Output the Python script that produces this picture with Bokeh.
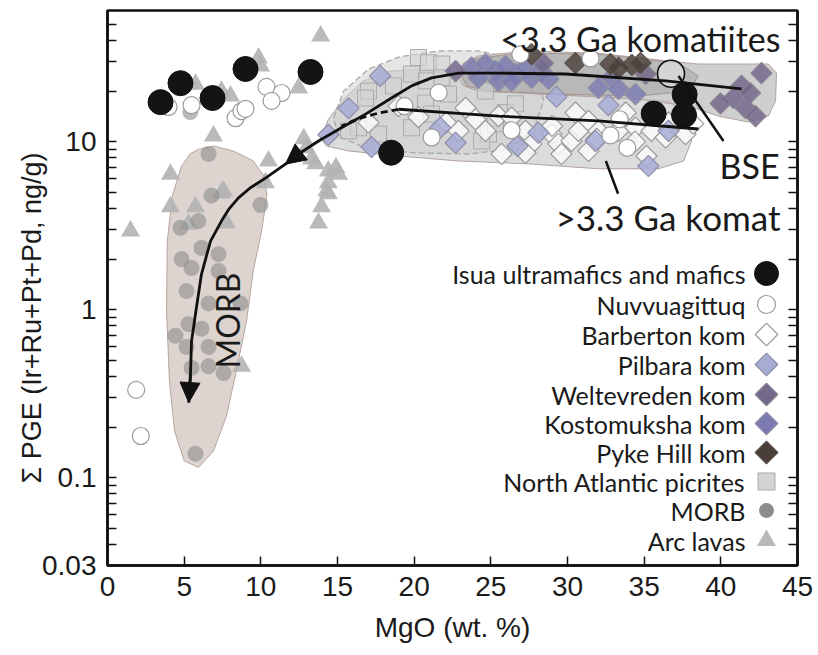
import math
from bokeh.plotting import figure
from bokeh.models import (FixedTicker, LogAxis, Label, Arrow, NormalHead, Range1d)
from bokeh.embed import file_html
from bokeh.resources import INLINE

# ---------------- data (MgO wt.%, sum PGE ng/g) ----------------
isua_mgo = [3.46, 4.76, 6.85, 9.0, 13.24, 18.5, 37.64, 35.62, 37.6]
isua_pge = [17.2, 22.3, 18.2, 27.1, 26.0, 8.6, 19.1, 14.7, 14.4]

nuvv_mgo = [3.98, 5.48, 8.35, 8.74, 9.0, 10.37, 11.35, 10.7, 26.92, 21.6, 19.37, 21.14,
            26.35, 31.5, 33.4, 32.8, 33.9, 1.87, 2.17]
nuvv_pge = [16.1, 16.5, 13.8, 15.2, 15.7, 21.2, 19.5, 17.5, 33.1, 19.6, 16.3, 10.6,
            11.7, 31.3, 13.6, 10.9, 9.2, 0.333, 0.177]

barb_mgo = [17.02, 18.98, 20.28, 22.1, 22.89, 23.35, 24.0, 24.65, 25.5, 26.35, 27.26, 27.65,
            25.7, 27.26, 28.96, 29.4, 29.6, 30.26, 30.72, 31.37, 32.02, 33.33, 33.8, 34.43,
            35.48, 36.59, 37.7, 36.4, 35.15, 30.52, 31.37, 29.0, 31.9, 34.4, 38.2]
barb_pge = [13.0, 16.3, 14.0, 13.0, 11.6, 15.9, 13.6, 11.6, 14.2, 13.9, 11.6, 9.7,
            8.45, 8.6, 11.1, 9.7, 8.45, 10.1, 11.6, 13.3, 11.6, 11.6, 14.9, 12.1,
            11.6, 13.0, 11.1, 10.6, 8.22, 14.9, 8.81, 12.4, 10.4, 10.0, 12.8]

pilb_mgo = [17.78, 15.72, 14.41, 17.22, 21.7, 22.7, 26.74, 28.1, 29.28, 32.67, 31.83, 35.28, 36.59]
pilb_pge = [24.6, 15.8, 11.0, 9.3, 12.1, 9.86, 9.43, 11.3, 18.5, 16.5, 10.1, 7.17, 11.6]

welt_mgo = [42.65, 41.35, 40.83, 39.98, 41.6, 42.26, 41.9, 35.1, 22.7, 28.4]
welt_pge = [25.6, 21.5, 18.2, 16.9, 15.9, 14.2, 19.5, 25.3, 26.3, 29.3]

kost_mgo = [23.74, 24.65, 25.3, 25.96, 26.6, 27.26, 27.65, 28.3, 28.76, 24.2, 25.5, 26.35,
            32.02, 32.87, 33.33, 34.43]
kost_pge = [27.6, 29.0, 26.3, 28.2, 25.3, 27.6, 24.0, 26.3, 23.6, 24.0, 23.0, 23.0,
            20.9, 24.0, 20.6, 19.2]

pyke_mgo = [27.65, 30.52, 32.8, 34.2, 34.76, 33.33]
pyke_pge = [33.2, 29.4, 29.0, 28.6, 29.4, 27.5]

nap_mgo = [20.28, 20.93, 21.8, 19.83, 20.8, 21.8, 17.02, 16.83, 16.37, 15.72, 17.67, 19.83,
           20.74, 22.24, 24.65, 24.85, 24.4, 25.96, 26.6, 25.3, 21.13, 18.65]
nap_pge = [31.7, 29.5, 29.0, 25.3, 23.0, 24.0, 20.0, 18.2, 12.1, 11.6, 11.1, 12.1,
           17.0, 19.2, 20.0, 11.1, 10.1, 14.9, 16.8, 12.8, 14.6, 21.5]

morb_mgo = [6.59, 6.78, 4.76, 5.93, 6.13, 7.24, 4.83, 5.48, 7.24, 5.15, 6.59, 8.67, 5.28,
            6.13, 4.43, 5.15, 6.59, 5.48, 6.59, 7.57, 5.74, 9.98, 5.4]
morb_pge = [8.45, 4.77, 3.07, 3.37, 2.33, 2.14, 2.0, 1.77, 1.70, 1.29, 1.09, 1.09, 0.82,
            0.77, 0.70, 0.60, 0.60, 0.45, 0.46, 0.42, 0.139, 4.2, 15.0]

arc_mgo = [13.9, 9.85, 9.98, 12.46, 5.74, 7.43, 8.02, 6.91, 4.11, 10.5, 12.8, 12.98, 13.3,
           13.57, 14.4, 14.9, 15.07, 14.4, 14.3, 7.43, 10.3, 1.5, 4.11, 5.74, 7.57, 7.76,
           5.28, 14.4, 13.96, 13.76, 8.74]
arc_pge = [42.6, 31.5, 28.2, 20.9, 22.0, 20.0, 18.7, 10.8, 6.4, 7.68, 10.4, 9.2, 7.9,
           7.4, 6.69, 7.0, 6.4, 5.7, 5.09, 4.95, 5.7, 2.94, 4.1, 4.1, 5.09, 3.28,
           3.23, 4.9, 4.1, 3.28, 0.46]

bse_mgo = [36.75]
bse_pge = [25.4]

# fields (outlines, MgO / PGE)
morb_field_mgo = [5.93, 6.91, 8.2, 9.5, 10.2, 10.4, 10.05, 9.5, 9.07, 8.4, 7.76, 6.91, 5.93,
                  5.0, 4.37, 4.04, 3.85, 3.9, 4.24, 4.83, 5.41]
morb_field_pge = [9.0, 9.43, 8.8, 7.7, 6.25, 4.8, 2.94, 1.70, 0.857, 0.432, 0.233, 0.144, 0.115,
                  0.126, 0.19, 0.376, 0.98, 2.56, 4.8, 7.17, 8.5]

old_field_mgo = [13.89, 14.41, 15.39, 16.7, 18.33, 20.93, 23.54, 26.8, 32.02, 36.59, 37.9, 38.09,
                 37.57, 35.93, 32.02, 27.46, 22.89, 18.98, 15.72, 14.28]
old_field_pge = [10.5, 13.6, 17.9, 23.0, 26.3, 27.0, 23.0, 20.0, 18.7, 17.5, 14.2, 10.1,
                 7.68, 6.9, 6.9, 7.38, 7.68, 8.22, 8.81, 9.43]

nap_field_mgo = [14.74, 15.39, 17.02, 18.98, 21.59, 24.2, 26.8, 28.1, 28.44, 27.78, 26.15,
                 23.54, 20.28, 17.02, 15.07]
nap_field_pge = [13.8, 20.0, 27.0, 31.9, 34.7, 34.7, 31.0, 24.6, 17.5, 11.6, 9.0,
                 8.45, 8.57, 9.0, 10.8]

young_field_mgo = [22.89, 23.22, 24.2, 27.46, 32.02, 36.59, 38.54, 43.1, 43.63, 43.57, 43.1,
                   41.8, 39.85, 37.9, 34.63, 30.72, 26.8, 24.2, 23.22]
young_field_pge = [24.6, 29.4, 32.4, 34.7, 33.6, 30.2, 29.0, 29.0, 25.6, 17.5, 14.2,
                   13.1, 14.2, 16.3, 17.9, 18.7, 19.5, 20.0, 21.5]

young_core_mgo = [23.02, 23.87, 26.8, 32.02, 37.24, 38.54, 37.9, 34.63, 29.4, 24.85, 23.41]
young_core_pge = [25.6, 31.0, 33.7, 33.2, 29.4, 24.6, 20.0, 18.7, 19.2, 20.0, 21.5]

# trends
trend_mgo = [41.35, 36.4, 29.87, 25.5, 22.9, 21.13, 19.83, 18.52, 16.83, 15.26, 13.76, 12.46,
             11.6, 10.3, 9.3, 8.54, 7.9, 7.43, 6.72, 6.13, 5.8, 5.48, 5.41, 5.3]
trend_pge = [20.6, 23.0, 25.3, 25.6, 25.6, 24.0, 21.5, 18.2, 14.6, 12.1, 10.1, 8.45,
             7.35, 6.07, 5.3, 4.63, 3.95, 3.37, 2.56, 1.63, 1.03, 0.65, 0.41, 0.28]
old_trend_mgo = [18.98, 25.5, 32.0, 38.54]
old_trend_pge = [15.6, 14.2, 13.3, 11.9]
old_dash_mgo = [18.98, 17.67, 16.37, 15.26]
old_dash_pge = [15.6, 14.8, 13.7, 12.4]
bse_ptr_mgo = [37.24, 40.17]
bse_ptr_pge = [24.6, 10.1]
old_ptr_mgo = [32.5, 33.3]
old_ptr_pge = [7.68, 4.9]

x_ticks = [0, 5, 10, 15, 20, 25, 30, 35, 40, 45]
y_ticks = [0.03, 0.1, 1, 10]
y_tick_labels = ["0.03", "0.1", "1", "10"]
y_minor = [0.04, 0.05, 0.06, 0.07, 0.08, 0.09,
           0.2, 0.3, 0.4, 0.5, 0.6, 0.7, 0.8, 0.9,
           2, 3, 4, 5, 6, 7, 8, 9, 20, 30, 40, 50]

x_title = "MgO (wt. %)"
y_title = "Σ PGE (Ir+Ru+Pt+Pd, ng/g)"

legend_labels = ["Isua ultramafics and mafics", "Nuvvuagittuq", "Barberton kom", "Pilbara kom",
                 "Weltevreden kom", "Kostomuksha kom", "Pyke Hill kom",
                 "North Atlantic picrites", "MORB", "Arc lavas"]

# ---------------- layout ----------------
W, H = 818, 655
LEFT, RIGHT, TOP, BOTTOM = 107, 21, 10, 90
FW, FH = W - LEFT - RIGHT, H - TOP - BOTTOM
X0, X1 = 0, 45
Y0, Y1 = 0.03, 60.4


def sx(px):
    return X0 + (px - LEFT) / FW * (X1 - X0)


def sy(py):
    ly0, ly1 = math.log10(Y0), math.log10(Y1)
    return 10 ** (ly0 + (TOP + FH - py) / FH * (ly1 - ly0))


p = figure(width=W, height=H, x_range=Range1d(X0, X1), y_range=Range1d(Y0, Y1),
           y_axis_type="log", output_backend="svg", toolbar_location=None,
           min_border_left=LEFT, min_border_right=RIGHT, min_border_top=TOP,
           min_border_bottom=BOTTOM)
p.background_fill_color = "white"
p.border_fill_color = "white"
p.outline_line_color = "#111111"
p.outline_line_width = 2.5
p.xgrid.visible = False
p.ygrid.visible = False

TICK_FONT = "Liberation Sans"
xa = p.xaxis[0]
xa.ticker = FixedTicker(ticks=x_ticks)
ya = p.yaxis[0]
ya.ticker = FixedTicker(ticks=y_ticks, minor_ticks=y_minor)
ya.major_label_overrides = {t: s for t, s in zip(y_ticks, y_tick_labels)}
for ax in (xa, ya):
    ax.axis_line_width = 2.5
    ax.axis_line_color = "#111111"
    ax.major_tick_in = 9
    ax.major_tick_out = 0
    ax.minor_tick_in = 9
    ax.minor_tick_out = 0
    ax.major_tick_line_width = 1.5
    ax.minor_tick_line_width = 1.5
    ax.major_tick_line_color = "#111111"
    ax.minor_tick_line_color = "#111111"
    ax.major_label_text_font = TICK_FONT
    ax.major_label_text_font_size = "28px"
    ax.major_label_text_color = "#1a1a1a"
    ax.major_label_standoff = 11
    ax.axis_label_text_font = TICK_FONT
    ax.axis_label_text_font_style = "normal"
    ax.axis_label_text_color = "#1a1a1a"
xa.minor_tick_in = 0
xa.axis_label = x_title
xa.axis_label_text_font_size = "28px"
xa.axis_label_standoff = 13
# trailing no-break spaces move the centred title down, towards the reference position
ya.axis_label = y_title + "\u00a0" * 8
ya.axis_label_text_font_size = "27px"
ya.axis_label_standoff = -8

ra = LogAxis(ticker=FixedTicker(ticks=y_ticks, minor_ticks=y_minor),
             major_label_text_font_size="2px", major_label_text_alpha=0.0,
             major_label_standoff=0,
             axis_line_width=2.5, axis_line_color="#111111",
             major_tick_in=9, major_tick_out=0, minor_tick_in=9, minor_tick_out=0,
             major_tick_line_width=1.5, minor_tick_line_width=1.5,
             major_tick_line_color="#111111", minor_tick_line_color="#111111")
p.add_layout(ra, "right")

# ---------------- fields ----------------
p.patch(morb_field_mgo, morb_field_pge, fill_color="#d9cfcb", fill_alpha=0.9,
        line_color="#b7a49d", line_width=1)
p.patch(old_field_mgo, old_field_pge, fill_color="#d6d6d6", fill_alpha=0.85,
        line_color="#b3a29c", line_width=1)
p.patch(nap_field_mgo, nap_field_pge, fill_color="#cfcfcf", fill_alpha=0.55,
        line_color="#a8a8a8", line_width=1.3, line_dash="6 3")
p.patch(young_field_mgo, young_field_pge, fill_color="#c3c3c3", fill_alpha=0.8,
        line_color="#b3a29c", line_width=1)
p.patch(young_core_mgo, young_core_pge, fill_color="#a6a6a6", fill_alpha=0.55,
        line_color="#a59590", line_width=1)

# ---------------- samples ----------------
p.scatter(arc_mgo, arc_pge, marker="triangle", size=19, fill_color="#b3b3b3",
          fill_alpha=0.9, line_color=None)
p.scatter(morb_mgo, morb_pge, marker="circle", size=16, fill_color="#8c8c8c",
          fill_alpha=0.6, line_color=None)
p.scatter(nap_mgo, nap_pge, marker="square", size=16, fill_color="#d4d4d4",
          fill_alpha=0.6, line_color="#ababab", line_width=1)
DIA = dict(marker="square", angle=math.pi / 4, size=15, line_width=1.2)
p.scatter(barb_mgo, barb_pge, fill_color="white", fill_alpha=0.75, line_color="#9a9a9a", **DIA)
p.scatter(pilb_mgo, pilb_pge, fill_color="#a7acd5", fill_alpha=0.85, line_color="#8e8fa8", **DIA)
p.scatter(kost_mgo, kost_pge, fill_color="#7b7bb2", fill_alpha=0.8, line_color="#8d8da5", **DIA)
p.scatter(welt_mgo, welt_pge, fill_color="#72698b", fill_alpha=0.85, line_color="#8a8494", **DIA)
p.scatter(pyke_mgo, pyke_pge, fill_color="#4a3f38", fill_alpha=0.8, line_color="#5a514b", **DIA)
p.scatter(nuvv_mgo, nuvv_pge, marker="circle", size=17, fill_color="white",
          line_color="#9a9a9a", line_width=1.2)
p.scatter(bse_mgo, bse_pge, marker="circle", size=27, fill_color="#e6e6e6", fill_alpha=0.6,
          line_color="#111111", line_width=1.6)
p.scatter(isua_mgo, isua_pge, marker="circle", size=25, fill_color="#141414",
          line_color="#111111")

# ---------------- trends and pointers ----------------
p.line(trend_mgo, trend_pge, line_color="#111111", line_width=2.8)
p.line(old_trend_mgo, old_trend_pge, line_color="#111111", line_width=2.8)
p.line(old_dash_mgo, old_dash_pge, line_color="#111111", line_width=2.8, line_dash="7 4")
p.line(bse_ptr_mgo, bse_ptr_pge, line_color="#111111", line_width=2.5)
p.line(old_ptr_mgo, old_ptr_pge, line_color="#111111", line_width=2.5)
for i0, i1 in ((11, 12), (22, 23)):
    p.add_layout(Arrow(end=NormalHead(size=20, fill_color="#111111", line_color="#111111"),
                       x_start=trend_mgo[i0], y_start=trend_pge[i0],
                       x_end=trend_mgo[i1], y_end=trend_pge[i1],
                       line_color="#111111", line_width=2.8))

ANN = dict(text_font="Lato", text_font_size="34px", text_color="#1a1a1a")
p.add_layout(Label(x=sx(780), y=sy(38), text="<3.3 Ga komatiites", text_align="right",
                   text_baseline="middle", **ANN))
p.add_layout(Label(x=sx(749), y=sy(165), text="BSE", text_align="center",
                   text_baseline="middle", **ANN))
p.add_layout(Label(x=sx(780), y=sy(216), text=">3.3 Ga komat", text_align="right",
                   text_baseline="middle", text_font="Lato", text_font_size="35px",
                   text_color="#1a1a1a"))
p.add_layout(Label(x=sx(227), y=sy(320), text="MORB", text_align="center",
                   text_baseline="middle", angle=math.pi / 2, text_font="Lato",
                   text_font_size="32px", text_color="#1a1a1a"))

# ---------------- legend (right-aligned text, key on the right) ----------------
leg_rows = [273, 304, 334, 364, 394, 423, 452, 481, 510, 540]
leg_styles = [
    dict(marker="circle", size=24, fill_color="#141414", line_color="#111111"),
    dict(marker="circle", size=18, fill_color="white", line_color="#9a9a9a", line_width=1.2),
    dict(marker="square", angle=math.pi / 4, size=16, fill_color="white", line_color="#9a9a9a", line_width=1.2),
    dict(marker="square", angle=math.pi / 4, size=16, fill_color="#a7acd5", line_color="#8e8fa8", line_width=1.2),
    dict(marker="square", angle=math.pi / 4, size=16, fill_color="#72698b", line_color="#8a8494", line_width=1.2),
    dict(marker="square", angle=math.pi / 4, size=16, fill_color="#7b7bb2", line_color="#8d8da5", line_width=1.2),
    dict(marker="square", angle=math.pi / 4, size=16, fill_color="#4a3f38", line_color="#5a514b", line_width=1.2),
    dict(marker="square", size=17, fill_color="#d4d4d4", line_color="#ababab", line_width=1),
    dict(marker="circle", size=15, fill_color="#8c8c8c", line_color=None),
    dict(marker="triangle", size=19, fill_color="#b8b8b8", line_color=None),
]
for lab, row, st in zip(legend_labels, leg_rows, leg_styles):
    p.scatter([sx(766)], [sy(row)], **st)
    p.add_layout(Label(x=sx(745), y=sy(row), text=lab, text_align="right",
                       text_baseline="middle", text_font="Lato", text_font_size="25px",
                       text_color="#1a1a1a"))

open("out.html", "w").write(file_html(p, INLINE))
